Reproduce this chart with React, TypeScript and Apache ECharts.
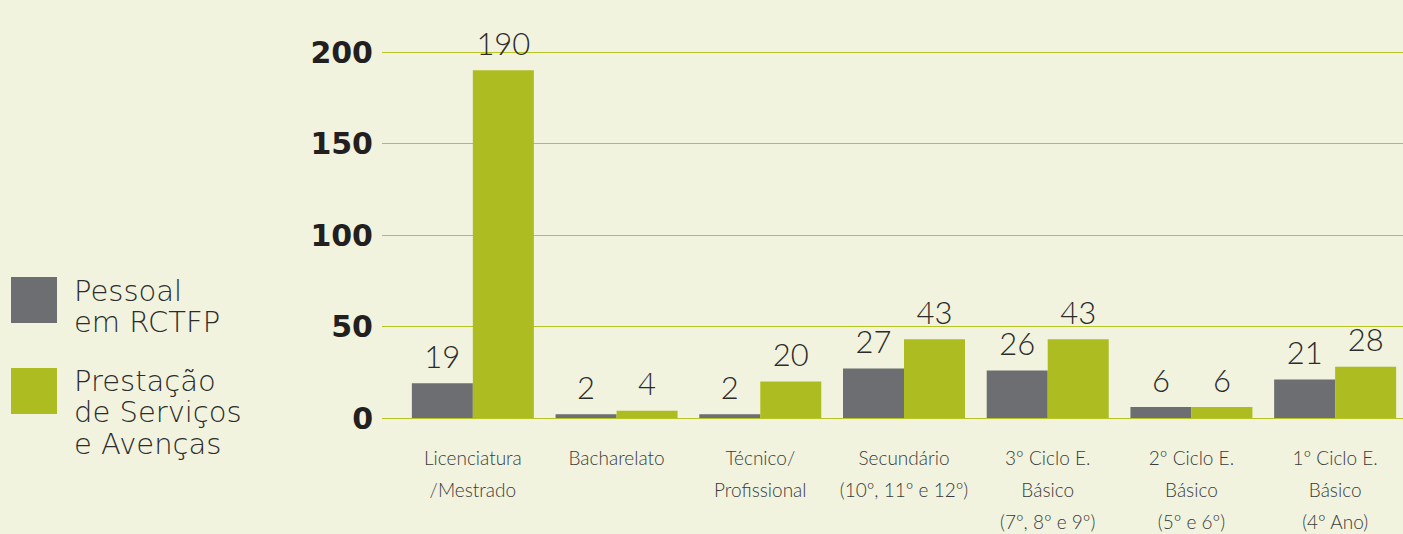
import React, { useEffect, useRef } from "react";
import * as echarts from "echarts";

const categories = [
  "Licenciatura\n/Mestrado",
  "Bacharelato",
  "Técnico/\nProfissional",
  "Secundário\n(10º, 11º e 12º)",
  "3º Ciclo E.\nBásico\n(7º, 8º e 9º)",
  "2º Ciclo E.\nBásico\n(5º e 6º)",
  "1º Ciclo E.\nBásico\n(4º Ano)",
];
const seriesNames = ["Pessoal em RCTFP", "Prestação de Serviços e Avenças"];
const legendLabels = ["Pessoal\nem RCTFP", "Prestação\nde Serviços\ne Avenças"];
const pessoal = [19, 2, 2, 27, 26, 6, 21];
const prestacao = [190, 4, 20, 43, 43, 6, 28];
const yTicks = { min: 0, max: 200, interval: 50 };

const GRAY = "#6d6e71";
const GREEN = "#adbc20";
const BG = "#f1f3de";
const TEXT = "#2b2b2b";

export default function App() {
  const ref = useRef<HTMLDivElement>(null);
  useEffect(() => {
    if (!ref.current) return;
    const chart = echarts.init(ref.current, null, { renderer: "svg" });
    const labelStyle = {
      show: true,
      position: "top" as const,
      distance: 12,
      fontFamily: "Lato",
      fontWeight: 300,
      fontSize: 31,
      color: TEXT,
    };
    const legendText = {
      fontFamily: "DejaVu Sans",
      fontWeight: 200,
      fontSize: 29,
      fill: TEXT,
    };
    chart.setOption({
      animation: false,
      backgroundColor: BG,
      grid: [
        { left: 382, right: 0, top: 52, bottom: 116, outerBoundsMode: "none", containLabel: false },
        { left: 401, width: 1006, top: 52, bottom: 116, outerBoundsMode: "none", containLabel: false },
      ],
      xAxis: [
        { type: "category", gridIndex: 0, data: categories, show: false },
        {
          type: "category",
          gridIndex: 1,
          data: categories,
          axisLine: { show: false },
          axisTick: { show: false },
          axisLabel: {
            interval: 0,
            margin: 23,
            fontFamily: "Lato",
            fontWeight: 300,
            fontSize: 19,
            lineHeight: 32,
            color: "#3a3a3a",
          },
        },
      ],
      yAxis: [
        {
          type: "value",
          gridIndex: 0,
          min: yTicks.min,
          max: yTicks.max,
          interval: yTicks.interval,
          axisLine: { show: false },
          axisTick: { show: false },
          axisLabel: {
            margin: 9,
            fontFamily: "DejaVu Sans",
            fontWeight: "bold",
            fontSize: 30,
            color: "#231f20",
          },
          splitLine: { lineStyle: { color: "#b6c424", width: 1.2 } },
        },
        {
          type: "value",
          gridIndex: 1,
          min: yTicks.min,
          max: yTicks.max,
          interval: yTicks.interval,
          show: false,
          splitLine: { show: false },
        },
      ],
      series: [
        {
          name: seriesNames[0],
          type: "bar",
          xAxisIndex: 1,
          yAxisIndex: 1,
          data: pessoal,
          barWidth: 61,
          barGap: "0%",
          itemStyle: { color: GRAY },
          label: labelStyle,
        },
        {
          name: seriesNames[1],
          type: "bar",
          xAxisIndex: 1,
          yAxisIndex: 1,
          data: prestacao,
          barWidth: 61,
          barGap: "0%",
          itemStyle: { color: GREEN },
          label: labelStyle,
        },
      ],
      graphic: [
        { type: "rect", left: 11, top: 277, shape: { width: 46, height: 46 }, style: { fill: GRAY } },
        { type: "rect", left: 11, top: 368, shape: { width: 46, height: 46 }, style: { fill: GREEN } },
        {
          type: "text",
          left: 74,
          top: 275,
          style: { ...legendText, text: legendLabels[0], lineHeight: 31 },
        },
        {
          type: "text",
          left: 74,
          top: 365,
          style: { ...legendText, text: legendLabels[1], lineHeight: 31.5 },
        },
      ],
    });
    return () => chart.dispose();
  }, []);
  return (
    <div
      ref={ref}
      style={{ position: "absolute", left: 0, top: 0, width: 1403, height: 534 }}
    />
  );
}
